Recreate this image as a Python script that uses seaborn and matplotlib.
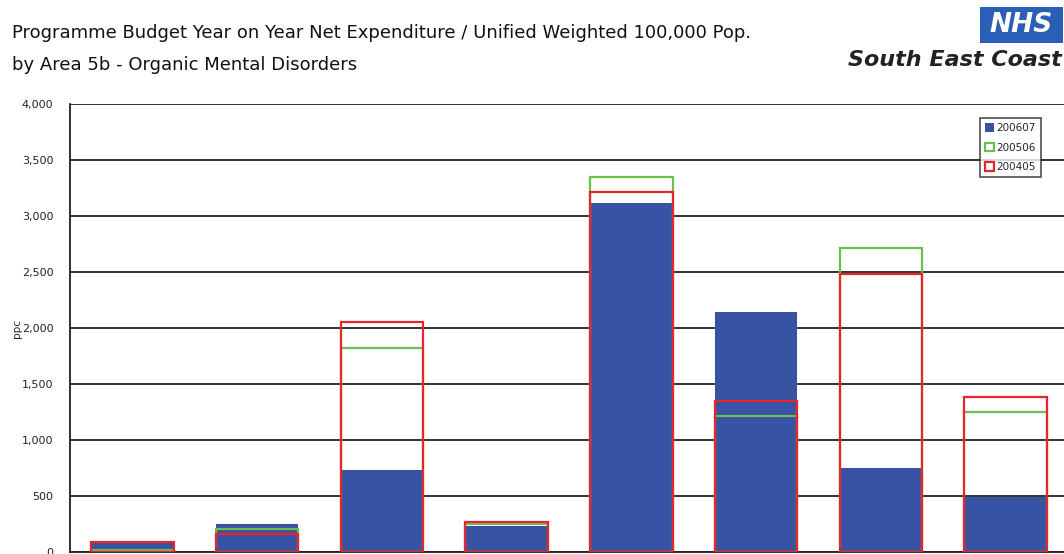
import matplotlib
matplotlib.use("Agg")
import matplotlib.pyplot as plt
import seaborn as sns
from matplotlib.patches import Rectangle

# data (x labels are cut off in the original)
areas = ["Brighton and Hove", "East Sussex Downs and Weald", "Hastings and Rother",
         "Medway", "Eastern and Coastal Kent", "West Kent", "Surrey", "West Sussex"]
exp_200607 = [101, 253, 732, 232, 3119, 2146, 753, 494]
exp_200506 = [15, 208, 1818, 253, 3345, 1211, 2717, 1247]
exp_200405 = [89, 161, 2051, 265, 3217, 1351, 2485, 1387]
y_ticks = [0, 500, 1000, 1500, 2000, 2500, 3000, 3500, 4000]

BLUE = "#3953a4"
GREEN = "#6cbf4f"
RED = "#e8242c"

sns.set_theme(style="white")
plt.rcParams["font.family"] = ["DejaVu Sans"]

fig = plt.figure(figsize=(10.64, 5.54), dpi=100)
ax = fig.add_axes([70 / 1064, 2 / 554, 998 / 1064, 448 / 554])

sns.barplot(x=areas, y=exp_200607, color=BLUE, width=0.66, errorbar=None,
            saturation=1, linewidth=0, ax=ax, zorder=3, label="200607")
sns.barplot(x=areas, y=exp_200506, color=GREEN, width=0.66, errorbar=None,
            saturation=1, fill=False, linewidth=1.6, ax=ax, zorder=4, label="200506")
sns.barplot(x=areas, y=exp_200405, color=RED, width=0.66, errorbar=None,
            saturation=1, fill=False, linewidth=1.6, ax=ax, zorder=5, label="200405")

ax.set_ylim(0, 4000)
ax.set_xlim(-0.5, len(areas) - 0.5)
ax.set_yticks(y_ticks)
ax.set_yticklabels([f"{v:,}" for v in y_ticks], fontsize=8, color="#222222")
ax.set_xticks([i - 0.5 for i in range(len(areas) + 1)])
ax.set_xticklabels([])
ax.tick_params(axis="y", direction="out", length=7, width=1.2, color="#222222", pad=5)
ax.tick_params(axis="x", direction="out", length=5, width=1.2, color="#222222")
ax.yaxis.grid(True, color="#222222", linewidth=1.3, zorder=0)
ax.set_axisbelow(True)
ax.set_xlabel("")
ax.set_ylabel("ppc", fontsize=7.5, labelpad=0)
for side in ["top", "right"]:
    ax.spines[side].set_visible(False)
for side in ["left", "bottom"]:
    ax.spines[side].set_color("#222222")
    ax.spines[side].set_linewidth(1.3)

leg = ax.legend(loc="upper right", bbox_to_anchor=(0.978, 0.98), fontsize=7.5,
                frameon=True, fancybox=False, handlelength=0.9, handleheight=0.9,
                handletextpad=0.2, borderpad=0.5, labelspacing=0.9)
leg.get_frame().set_edgecolor("#222222")
leg.get_frame().set_linewidth(1.2)
leg.set_zorder(10)

# titles
fig.text(12 / 1064, 1 - 33 / 554, "Programme Budget Year on Year Net Expenditure / Unified Weighted 100,000 Pop.",
         fontsize=13, va="center", ha="left", color="#111111")
fig.text(12 / 1064, 1 - 65 / 554, "by Area 5b - Organic Mental Disorders",
         fontsize=13, va="center", ha="left", color="#111111")

# NHS logo
fig.patches.append(Rectangle((980 / 1064, 1 - 43 / 554), 83 / 1064, 36 / 554,
                             transform=fig.transFigure, facecolor="#2a5fb5",
                             edgecolor="none"))
fig.text(1021 / 1064, 1 - 25 / 554, "NHS", fontsize=19, fontweight="bold",
         fontstyle="italic", color="white", ha="center", va="center")
fig.text(1062 / 1064, 1 - 60 / 554, "South East Coast", fontsize=16, fontweight="bold",
         fontstyle="italic", color="#222222", ha="right", va="center")

fig.savefig("out.png", dpi=100)
